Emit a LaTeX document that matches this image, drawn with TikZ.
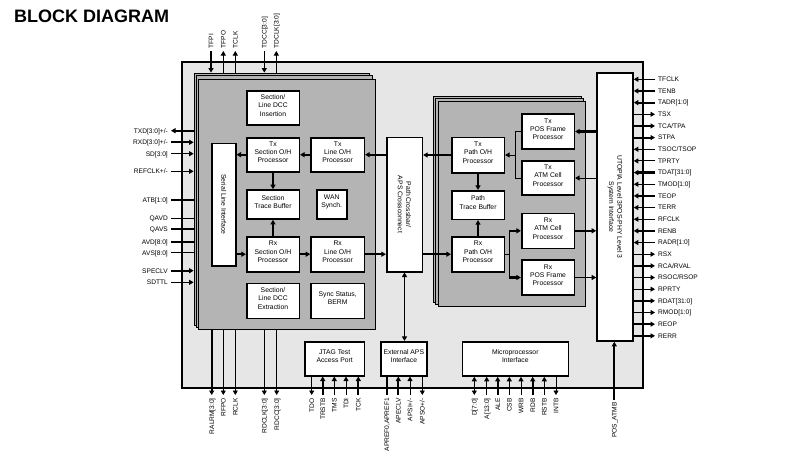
\documentclass[tikz,border=0pt]{standalone}
\usepackage{fontspec}
\setmainfont{Liberation Sans}
\usetikzlibrary{arrows.meta,fit}
\definecolor{bglight}{HTML}{E6E6E6}
\definecolor{midgray}{HTML}{B4B4B4}
\begin{document}
\begin{tikzpicture}[x=1pt,y=-1pt,
  >={Triangle[length=4.5pt,width=5pt]},
  thk/.style={line width=2.2pt},
  thn/.style={line width=0.9pt},
  box/.style={draw, line width=1.6pt, fill=white, align=center, inner sep=0pt,
    font=\fontsize{6.8}{8.3}\selectfont},
  layer/.style={draw, line width=0.8pt, fill=midgray, inner sep=0pt},
  rtxt/.style={rotate=-90, align=center, inner sep=0pt, font=\fontsize{6.8}{8.3}\selectfont},
  lbl/.style={font=\fontsize{6.6}{7.5}\selectfont, inner sep=0pt, text height=4.7pt, text depth=0pt},
  sigin/.style={->}, sigout/.style={<-}, signo/.style={}, sigboth/.style={<->}
]
\useasboundingbox[fill=white] (0,0) rectangle (802,464);

\node[anchor=base west, inner sep=0pt, font=\fontsize{18}{20}\selectfont\bfseries] (title) at (14,22) {BLOCK DIAGRAM};

% chip outline
\node[draw, line width=1.8pt, fill=bglight, inner sep=0pt, fit={(182,62) (643,388)}] (chip) {};

% left stacked block
\node[layer, fit={(194,73) (369,325)}] (lb1) {};
\node[layer, fit={(196,75.7) (372,327)}] (lb2) {};
\node[layer, fit={(198.5,79) (375,329)}] (lb3) {};

% right stacked block
\node[layer, fit={(433,96) (581,302)}] (rb1) {};
\node[layer, fit={(435.7,98.3) (583,304.3)}] (rb2) {};
\node[layer, fit={(438.3,101.7) (585.7,306.7)}] (rb3) {};

% left block contents
\node[box, fit={(246.7,91) (299.3,125)}] (dccins) {Section/\\Line DCC\\Insertion};
\node[box, fit={(246.7,137.7) (299.3,171.7)}] (txsoh) {Tx\\Section O/H\\Processor};
\node[box, fit={(311,137.7) (364.3,171.7)}] (txloh) {Tx\\Line O/H\\Processor};
\node[box, fit={(246.7,190) (299.3,219)}] (stb) {Section\\Trace Buffer};
\node[box, fit={(316.7,190) (346.7,219)}] (wan) {WAN\\Synch.};
\node[box, fit={(246.7,236.7) (299.3,271.7)}] (rxsoh) {Rx\\Section O/H\\Processor};
\node[box, fit={(311,236.7) (364.3,271.7)}] (rxloh) {Rx\\Line O/H\\Processor};
\node[box, fit={(246.7,283.3) (299.3,318.3)}] (dccext) {Section/\\Line DCC\\Extraction};
\node[box, fit={(311,283.3) (364.3,318.3)}] (sync) {Sync Status,\\BERM};
\node[box, fit={(211.7,143.3) (235.7,265.7)}] (sli) {};
\node[rtxt] (slitxt) at (sli.center) {Serial Line Interface};

% crossbar
\node[box, fit={(386.7,137.3) (422.3,271.7)}] (xbar) {};
\node[rtxt] (xbartxt) at (xbar.center) {Path Crossbar/\\APS Crossconnect};

% right block contents
\node[box, fit={(451.7,137.3) (504.3,172.7)}] (txpoh) {Tx\\Path O/H\\Processor};
\node[box, fit={(451.7,190.7) (504.3,219.3)}] (ptb) {Path\\Trace Buffer};
\node[box, fit={(451.7,236.7) (504.3,271.7)}] (rxpoh) {Rx\\Path O/H\\Processor};
\node[box, fit={(521.7,114) (574.3,149)}] (txpos) {Tx\\POS Frame\\Processor};
\node[box, fit={(521.7,161) (574.3,195)}] (txatm) {Tx\\ATM Cell\\Processor};
\node[box, fit={(521.7,213.3) (574.3,248.3)}] (rxatm) {Rx\\ATM Cell\\Processor};
\node[box, fit={(521.7,260) (574.3,295)}] (rxpos) {Rx\\POS Frame\\Processor};

% UTOPIA
\node[box, fit={(597,73) (633,341)}] (utopia) {};
\node[rtxt] (utotxt) at (utopia.center) {UTOPIA Level 3POS-PHY Level 3\\System Interface};

% bottom blocks
\node[box, fit={(305,341.7) (364.3,375.7)}] (jtag) {JTAG Test\\Access Port};
\node[box, fit={(381,341.7) (426.7,375.7)}] (extaps) {External APS\\Interface};
\node[box, fit={(462.3,341.7) (568.3,376)}] (micro) {Microprocessor\\Interface};

% internal connections
\draw[thk,->] (txloh.west) -- (txsoh.east);
\draw[thk,->] (xbar.west |- txloh) -- (txloh.east);
\draw[thk,->] (txsoh.west) -- (sli.east |- txsoh);
\draw[thk,->] (txsoh.south) -- (stb.north);
\draw[thk,->] (rxsoh.north) -- (stb.south);
\draw[thk,->] (sli.east |- rxsoh) -- (rxsoh.west);
\draw[thk,->] (rxsoh.east) -- (rxloh.west);
\draw[thk,->] (rxloh.east) -- (xbar.west |- rxloh);
\draw[thk,->] (txpoh.west) -- (xbar.east |- txpoh);
\draw[thk,->] (xbar.east |- rxpoh) -- (rxpoh.west);
\draw[thk,->] (txpoh.south) -- (ptb.north);
\draw[thk,->] (rxpoh.north) -- (ptb.south);
\draw[line width=1.4pt,<->] (xbar.south) -- (xbar.south |- extaps.north);

\coordinate (tm) at (515.7,0);
\draw[thn] (txpos.west) -| (tm |- txatm.west) -- (txatm.west);
\draw[thn,->] (tm |- txpoh) -- (txpoh.east);
\coordinate (sm) at (509.3,0);
\draw[thn] (rxpoh.east) -- (sm |- rxpoh);
\draw[line width=1.3pt] (sm |- rxatm) -- (sm |- rxpos);
\draw[thk,->] (sm |- rxatm) -- (rxatm.west);
\draw[thk,->] (sm |- rxpos) -- (rxpos.west);

\draw[thk,->] (utopia.west |- txpos) -- (txpos.east);
\draw[thn,->] (utopia.west |- txatm) -- (txatm.east);
\draw[thk,->] (rxatm.east) -- (utopia.west |- rxatm);
\draw[thn,->] (rxpos.east) -- (utopia.west |- rxpos);

% right side signals
\foreach \i/\t/\w/\d in {0/TFCLK/thn/sigin, 1/TENB/thk/sigin, 2/{TADR[1:0]}/thk/sigin,
  3/TSX/thn/sigout, 4/{TCA/TPA}/thk/sigout, 5/STPA/thk/sigout, 6/{TSOC/TSOP}/thn/sigin,
  7/TPRTY/thn/sigin, 8/{TDAT[31:0]}/thk/sigin, 9/{TMOD[1:0]}/thn/sigin, 10/TEOP/thk/sigin,
  11/TERR/thn/sigin, 12/RFCLK/thn/sigin, 13/RENB/thk/sigin, 14/{RADR[1:0]}/thn/sigin,
  15/RSX/thn/sigout, 16/{RCA/RVAL}/thk/sigout, 17/{RSOC/RSOP}/thn/sigout, 18/RPRTY/thn/sigout,
  19/{RDAT[31:0]}/thk/sigout, 20/{RMOD[1:0]}/thn/sigout, 21/REOP/thk/sigout, 22/RERR/thk/sigout}{
  \pgfmathsetmacro\yy{79.3+11.66*\i}
  \node[lbl, anchor=west] (R\i) at (658,\yy) {\t};
  \coordinate (Re\i) at (655,\yy);
  \draw[\w,\d] (Re\i) -- (utopia.east |- Re\i);
}

% left side signals
\foreach \i/\y/\t/\w/\d in {1/130.7/{TXD[3:0]+/-}/thk/sigout, 2/142.3/{RXD[3:0]+/-}/thk/sigin,
  3/153.7/{SD[3:0]}/thn/sigin, 4/171.3/{REFCLK+/-}/thn/sigin, 5/200/{ATB[1:0]}/thk/signo,
  6/218.3/QAVD/thn/signo, 7/229/QAVS/thk/signo, 8/241.7/{AVD[8:0]}/thk/signo,
  9/252.7/{AVS[8:0]}/thn/signo, 10/270.7/SPECLV/thk/sigin, 11/282.3/SDTTL/thn/sigin}{
  \node[lbl, anchor=east] (L\i) at (168,\y) {\t};
  \coordinate (Le\i) at (171,\y);
  \draw[\w,\d] (Le\i) -- (lb1.west |- Le\i);
}

% top signals
\foreach \i/\x/\t/\w/\d in {1/211/TFPI/thk/sigin, 2/223.3/TFPO/thn/sigout, 3/235.3/TCLK/thn/sigout,
  4/264.3/{TDCC[3:0]}/thn/sigin, 5/276.3/{TDCLK[3:0]}/thn/sigout}{
  \node[lbl, rotate=90, anchor=west] (T\i) at (\x,48.5) {\t};
  \coordinate (Te\i) at (\x,51);
  \draw[\w,\d] (Te\i) -- (Te\i |- lb1.north);
}

% bottom signals of left block
\foreach \i/\x/\t/\w/\d in {1/211.7/{RALRM[3:0]}/thk/sigout, 2/223.3/RFPO/thn/sigout,
  3/235.3/RCLK/thn/sigout, 4/264.3/{RDCLK[3:0]}/thn/sigout, 5/276.7/{RDCC[3:0]}/thn/sigout}{
  \node[lbl, rotate=90, anchor=east] (B\i) at (\x,398) {\t};
  \coordinate (Be\i) at (\x,395);
  \draw[\w,\d] (Be\i) -- (Be\i |- lb3.south);
}

% JTAG signals
\foreach \i/\x/\t/\w/\d in {1/311.7/TDO/thn/sigout, 2/322.7/TRSTB/thk/sigin, 3/334.3/TMS/thn/sigin,
  4/346/TDI/thn/sigin, 5/358.3/TCK/thk/sigin}{
  \node[lbl, rotate=90, anchor=east] (J\i) at (\x,398) {\t};
  \coordinate (Je\i) at (\x,395);
  \draw[\w,\d] (Je\i) -- (Je\i |- jtag.south);
}

% external APS signals
\foreach \i/\x/\t/\w/\d in {1/386.7/{APREF0,APREF1}/thk/signo, 2/398.3/APECLV/thk/sigin,
  3/410/{APSI+/-}/thn/sigin, 4/422.3/{APSO+/-}/thn/sigout}{
  \node[lbl, rotate=90, anchor=east] (A\i) at (\x,398) {\t};
  \coordinate (Ae\i) at (\x,395);
  \draw[\w,\d] (Ae\i) -- (Ae\i |- extaps.south);
}

% microprocessor signals
\foreach \i/\x/\t/\w/\d in {1/474.3/{D[7:0]}/thn/sigboth, 2/486.7/{A[13:0]}/thn/sigin,
  3/497.7/ALE/thk/sigin, 4/509.3/CSB/thn/sigin, 5/521/WRB/thn/sigin, 6/532.7/RDB/thk/sigin,
  7/544.3/RSTB/thn/sigin, 8/556/INTB/thn/sigout}{
  \node[lbl, rotate=90, anchor=east] (M\i) at (\x,398) {\t};
  \coordinate (Me\i) at (\x,395);
  \draw[\w,\d] (Me\i) -- (Me\i |- micro.south);
}

% POS_ATMB
\node[lbl, rotate=90, anchor=east] (posatmb) at (614.3,402) {POS\_ATMB};
\coordinate (pe) at (614.3,400);
\draw[thk,->] (pe) -- (pe |- utopia.south);

\end{tikzpicture}
\end{document}
